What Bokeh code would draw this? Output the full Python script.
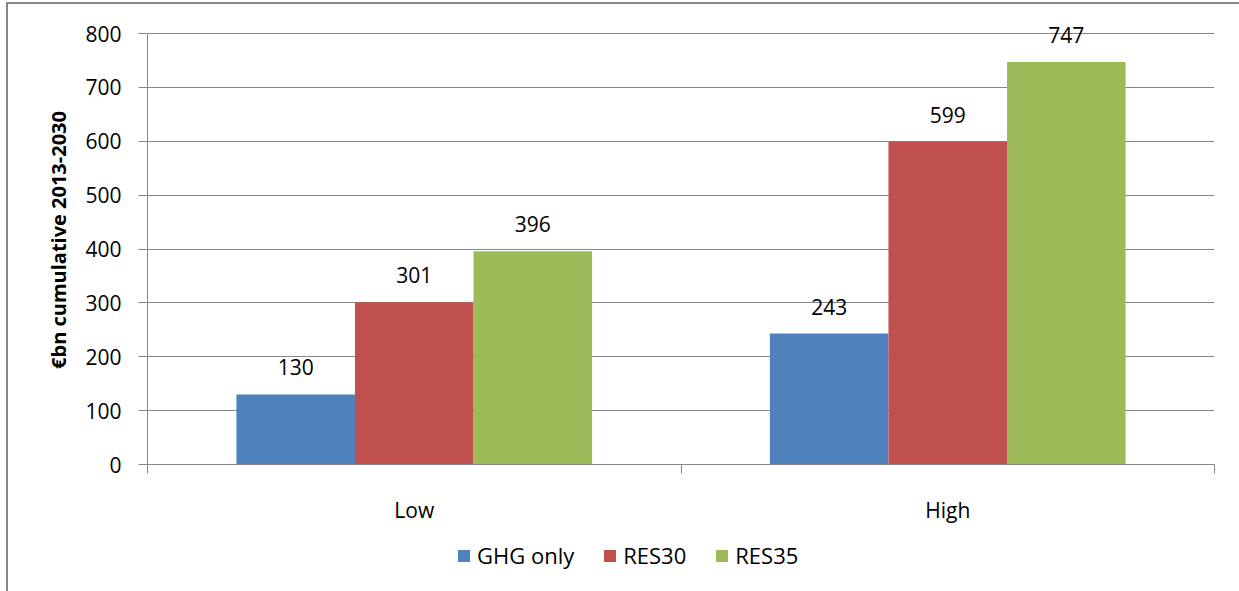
from bokeh.plotting import figure
from bokeh.layouts import column
from bokeh.models import (ColumnDataSource, Range1d, FixedTicker, Legend, LegendItem)
from bokeh.core.properties import value
from bokeh.embed import file_html
from bokeh.resources import INLINE

# Scenario data (cumulative investment, EUR bn, 2013-2030)
categories = ["Low", "High"]
series_names = ["GHG only", "RES30", "RES35"]
ghg_only = [130, 243]
res30 = [301, 599]
res35 = [396, 747]
y_ticks = [0, 100, 200, 300, 400, 500, 600, 700, 800]

colors = ["#4F81BD", "#C0504D", "#9BBB59"]
FONT = "Open Sans"
GRID = "#868686"

# Category slots of width 1; three bars plus a 150% gap per slot
n_series = 3
gap_ratio = 1.5
bar_w = 1.0 / (n_series + gap_ratio)
centers = [i + 0.5 for i in range(len(categories))]

# Value axis spans 0..800 over 431 px; the frame reaches a little higher so the
# top data label is not clipped
axis_max = y_ticks[-1]
axis_px = 431
head_px = 18
y_end = axis_max * (axis_px + head_px) / axis_px

p = figure(width=1239, height=530, output_backend="svg", toolbar_location=None,
           x_range=Range1d(0, len(categories)), y_range=Range1d(0, y_end),
           min_border_left=147, min_border_right=25, min_border_top=33 - head_px,
           min_border_bottom=66)
p.outline_line_color = None
p.background_fill_color = "white"
p.border_fill_color = None

for k, (name, vals) in enumerate(zip(series_names, [ghg_only, res30, res35])):
    xs = [c + (k - 1) * bar_w for c in centers]
    src = ColumnDataSource(dict(x=xs, top=vals, label=[str(v) for v in vals]))
    p.vbar(x="x", top="top", width=bar_w, bottom=0, source=src,
           fill_color=colors[k], line_color=None)
    p.text(x="x", y="top", text="label", source=src, text_align="center",
           text_baseline="bottom", y_offset=-19, text_font=value(FONT),
           text_font_size="21px", text_color="#000000")

# Y axis
p.yaxis.ticker = FixedTicker(ticks=y_ticks)
p.yaxis.bounds = (0, axis_max)
p.yaxis.axis_line_color = GRID
p.yaxis.major_tick_line_color = GRID
p.yaxis.major_tick_in = 0
p.yaxis.major_tick_out = 9
p.yaxis.minor_tick_line_color = None
p.yaxis.major_label_text_font = FONT
p.yaxis.major_label_text_font_size = "21px"
p.yaxis.major_label_text_color = "#000000"
p.yaxis.major_label_standoff = 17
p.yaxis.axis_label = "€bn cumulative 2013-2030"
p.yaxis.axis_label_text_font = FONT
p.yaxis.axis_label_text_font_size = "20px"
p.yaxis.axis_label_text_font_style = "bold"
p.yaxis.axis_label_text_color = "#000000"
p.yaxis.axis_label_standoff = 10

# X axis: labels at slot centres, tick marks at slot boundaries
p.xaxis.ticker = FixedTicker(ticks=centers,
                             minor_ticks=list(range(len(categories) + 1)))
p.xaxis.major_label_overrides = {c: lab for c, lab in zip(centers, categories)}
p.xaxis.axis_line_color = GRID
p.xaxis.major_tick_line_color = None
p.xaxis.minor_tick_line_color = GRID
p.xaxis.minor_tick_in = 0
p.xaxis.minor_tick_out = 9
p.xaxis.major_label_text_font = FONT
p.xaxis.major_label_text_font_size = "21px"
p.xaxis.major_label_text_color = "#000000"
p.xaxis.major_label_standoff = 22

p.xgrid.grid_line_color = None
p.ygrid.ticker = FixedTicker(ticks=y_ticks)
p.ygrid.grid_line_color = GRID
p.ygrid.grid_line_width = 1

# Legend strip under the chart (its frame is aligned with the chart frame)
leg = figure(width=1239, height=61, output_backend="svg", toolbar_location=None,
             x_range=Range1d(0, 1), y_range=Range1d(0, 1),
             x_axis_location=None, y_axis_location=None,
             min_border=0, min_border_left=0, min_border_right=0,
             min_border_top=0, min_border_bottom=0)
leg.outline_line_color = None
leg.background_fill_color = None
leg.border_fill_color = None
leg.grid.grid_line_color = None

items = []
for k, name in enumerate(series_names):
    # zero-area swatch renderers: only their legend glyph is drawn
    r = leg.vbar(x=[0.5], top=[0], bottom=[0], width=0, fill_color=colors[k],
                 line_color=None)
    items.append(LegendItem(label=name, renderers=[r]))

legend = Legend(items=items, orientation="horizontal", location=(309, 21),
                glyph_width=15, glyph_height=15, label_standoff=6, spacing=28,
                label_text_font=FONT, label_text_font_size="22px",
                label_text_color="#000000", border_line_color=None,
                background_fill_alpha=0, padding=0, margin=0)
leg.add_layout(legend, "center")

page = column(p, leg, spacing=0)
# chart border (left and top edges)
page.styles = {
    "background": (f"linear-gradient({GRID},{GRID}) 6px 3px / 2px 100% no-repeat, "
                   f"linear-gradient({GRID},{GRID}) 6px 2px / 100% 2px no-repeat, white"),
}

open("out.html", "w").write(file_html(page, INLINE))
